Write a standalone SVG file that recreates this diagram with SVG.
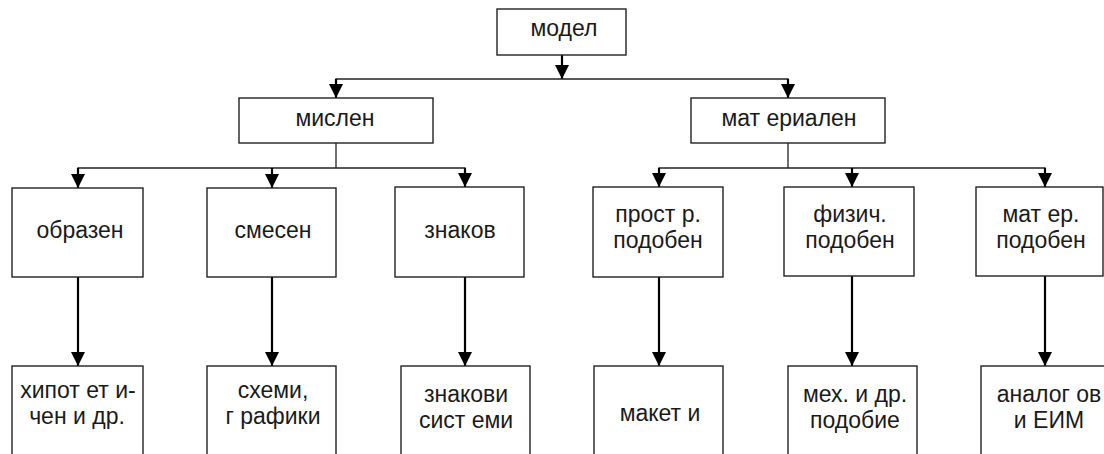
<svg xmlns="http://www.w3.org/2000/svg" width="1104" height="454" viewBox="0 0 1104 454">
  <defs>
    <marker id="arr" markerUnits="userSpaceOnUse" markerWidth="14" markerHeight="14" viewBox="0 0 14 14" refX="14" refY="7" orient="auto">
      <path d="M0,0 L14,7 L0,14 z" fill="#000"/>
    </marker>
  </defs>
  <style>
    .box { fill: #fff; stroke: #222; stroke-width: 1.4; }
    .t { font-family: "Liberation Sans", Arial, sans-serif; font-size: 23px; fill: #1a1a1a; text-anchor: middle; }
    .bus { fill: none; stroke: #222; stroke-width: 1.3; }
    .arrow { fill: none; stroke: #000; stroke-width: 2.2; marker-end: url(#arr); }
  </style>
  <rect width="1104" height="454" fill="#fff"/>

  <g id="connectors">
    <line class="arrow" x1="562" y1="55" x2="562" y2="79"/>
    <polyline class="bus" points="336,98 336,79 788,79 788,98"/>
    <line class="arrow" x1="336" y1="79" x2="336" y2="98"/>
    <line class="arrow" x1="788" y1="79" x2="788" y2="98"/>

    <polyline class="bus" points="336,143 336,168"/>
    <polyline class="bus" points="78,187 78,168 465,168 465,187"/>
    <line class="arrow" x1="78" y1="168" x2="78" y2="188"/>
    <line class="arrow" x1="272" y1="168" x2="272" y2="188"/>
    <line class="arrow" x1="465" y1="168" x2="465" y2="187"/>

    <polyline class="bus" points="788,143 788,168"/>
    <polyline class="bus" points="659,187 659,168 1045,168 1045,187"/>
    <line class="arrow" x1="659" y1="168" x2="659" y2="187"/>
    <line class="arrow" x1="852" y1="168" x2="852" y2="187"/>
    <line class="arrow" x1="1045" y1="168" x2="1045" y2="187"/>

    <line class="arrow" x1="78" y1="277" x2="78" y2="366"/>
    <line class="arrow" x1="272" y1="277" x2="272" y2="366"/>
    <line class="arrow" x1="465" y1="277" x2="465" y2="366"/>
    <line class="arrow" x1="659" y1="277" x2="659" y2="366"/>
    <line class="arrow" x1="852" y1="276" x2="852" y2="366"/>
    <line class="arrow" x1="1045" y1="276" x2="1045" y2="366"/>
  </g>

  <g id="n-model">
    <rect class="box" x="497" y="9" width="129" height="46"/>
    <text class="t" x="564" y="36">модел</text>
  </g>
  <g id="n-mislen">
    <rect class="box" x="239" y="98" width="194" height="45"/>
    <text class="t" x="335" y="126">мислен</text>
  </g>
  <g id="n-materialen">
    <rect class="box" x="691" y="98" width="194" height="45"/>
    <text class="t" x="789" y="126">мат ериален</text>
  </g>

  <g id="n-obrazen">
    <rect class="box" x="12" y="188" width="131" height="89"/>
    <text class="t" x="80" y="238">образен</text>
  </g>
  <g id="n-smesen">
    <rect class="box" x="207" y="188" width="129" height="89"/>
    <text class="t" x="273" y="238">смесен</text>
  </g>
  <g id="n-znakov">
    <rect class="box" x="395" y="187" width="129" height="90"/>
    <text class="t" x="460" y="238">знаков</text>
  </g>
  <g id="n-prostr">
    <rect class="box" x="593" y="187" width="130" height="90"/>
    <text class="t" x="658" y="222">прост р.</text>
    <text class="t" x="658" y="248">подобен</text>
  </g>
  <g id="n-fizich">
    <rect class="box" x="784" y="187" width="130" height="89"/>
    <text class="t" x="850" y="222">физич.</text>
    <text class="t" x="850" y="248">подобен</text>
  </g>
  <g id="n-mater">
    <rect class="box" x="976" y="187" width="127" height="89"/>
    <text class="t" x="1041" y="222">мат ер.</text>
    <text class="t" x="1041" y="248">подобен</text>
  </g>

  <g id="n-hipot">
    <rect class="box" x="12" y="366" width="131" height="100"/>
    <text class="t" x="78" y="398">хипот ет и-</text>
    <text class="t" x="77" y="424">чен и др.</text>
  </g>
  <g id="n-shemi">
    <rect class="box" x="207" y="366" width="129" height="100"/>
    <text class="t" x="273" y="398">схеми,</text>
    <text class="t" x="273" y="424">г рафики</text>
  </g>
  <g id="n-znakovi">
    <rect class="box" x="401" y="366" width="129" height="100"/>
    <text class="t" x="466" y="402">знакови</text>
    <text class="t" x="466" y="428">сист еми</text>
  </g>
  <g id="n-maketi">
    <rect class="box" x="594" y="366" width="129" height="100"/>
    <text class="t" x="660" y="421">макет и</text>
  </g>
  <g id="n-meh">
    <rect class="box" x="788" y="366" width="129" height="100"/>
    <text class="t" x="855" y="402">мех. и др.</text>
    <text class="t" x="855" y="428">подобие</text>
  </g>
  <g id="n-analog">
    <rect class="box" x="981" y="366" width="140" height="100"/>
    <text class="t" x="1049" y="402">аналог ов</text>
    <text class="t" x="1049" y="428">и ЕИМ</text>
  </g>
</svg>
